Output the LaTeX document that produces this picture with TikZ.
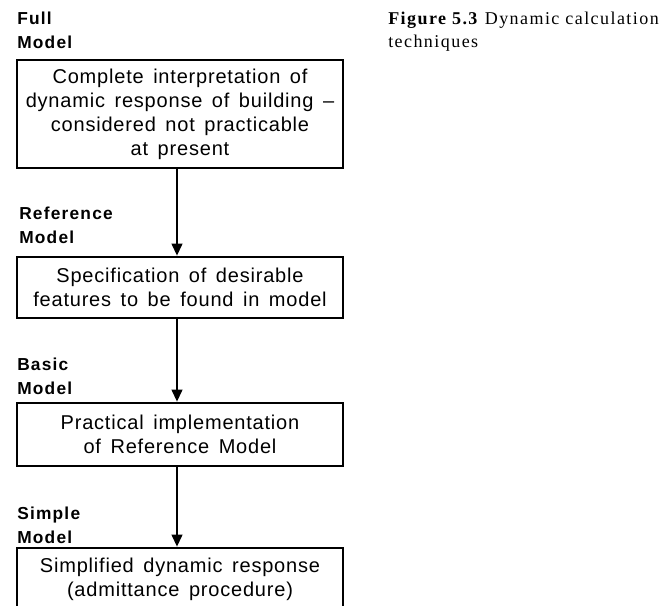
\documentclass[tikz,border=0pt]{standalone}
\usepackage{fontspec}
\setmainfont{Liberation Serif}
\setsansfont{Liberation Sans}
\newfontfamily\boxfont[LetterSpace=4, WordSpace=1.5]{Liberation Sans}
\newfontfamily\tagfont[LetterSpace=7]{Liberation Sans}
\newfontfamily\capfont[LetterSpace=8]{Liberation Serif}
\usetikzlibrary{positioning,arrows.meta}
\tikzset{
  stage/.style={draw, line width=2pt, align=center, minimum width=244.5pt, inner sep=0pt, font=\boxfont\fontsize{15}{18}\selectfont},
  tag/.style={anchor=north west, inner sep=0pt, align=left, font=\tagfont\bfseries\fontsize{13}{18}\selectfont},
  arrow/.style={-{Triangle[length=9pt,width=8pt]}, line width=1.5pt}
}
\begin{document}
\begin{tikzpicture}[x=0.75pt, y=-0.75pt]
  \useasboundingbox (0,0) rectangle (665,606);
  \clip (0,0) rectangle (665,606);

  % stages of the model hierarchy
  \node[stage, minimum height=81pt] (full) at (180,114) {Complete interpretation of\\dynamic response of building –\\considered not practicable\\at present};
  \node[stage, minimum height=45.75pt] (ref) at (180,287.5) {Specification of desirable\\features to be found in model};
  \node[stage, minimum height=47.25pt] (basic) at (180,434.5) {Practical implementation\\of Reference Model};
  \node[stage, minimum height=47.25pt] (simple) at (180,579.5) {Simplified dynamic response\\(admittance procedure)};

  \node[tag] (fulltag) at (17,12) {Full\\Model};
  \node[tag] (reftag) at (19,207) {Reference\\Model};
  \node[tag] (basictag) at (17,358) {Basic\\Model};
  \node[tag] (simpletag) at (17,507) {Simple\\Model};

  \draw[arrow] ([xshift=-2.25pt]full.south) -- ([xshift=-2.25pt]ref.north);
  \draw[arrow] ([xshift=-2.25pt]ref.south) -- ([xshift=-2.25pt]basic.north);
  \draw[arrow] ([xshift=-2.25pt]basic.south) -- ([xshift=-2.25pt]simple.north);

  \node[anchor=north west, inner sep=0pt, align=left, font=\capfont\fontsize{13.5}{17}\selectfont] (caption) at (388,12) {\textbf{Figure 5.3} Dynamic calculation\\techniques};
\end{tikzpicture}
\end{document}
